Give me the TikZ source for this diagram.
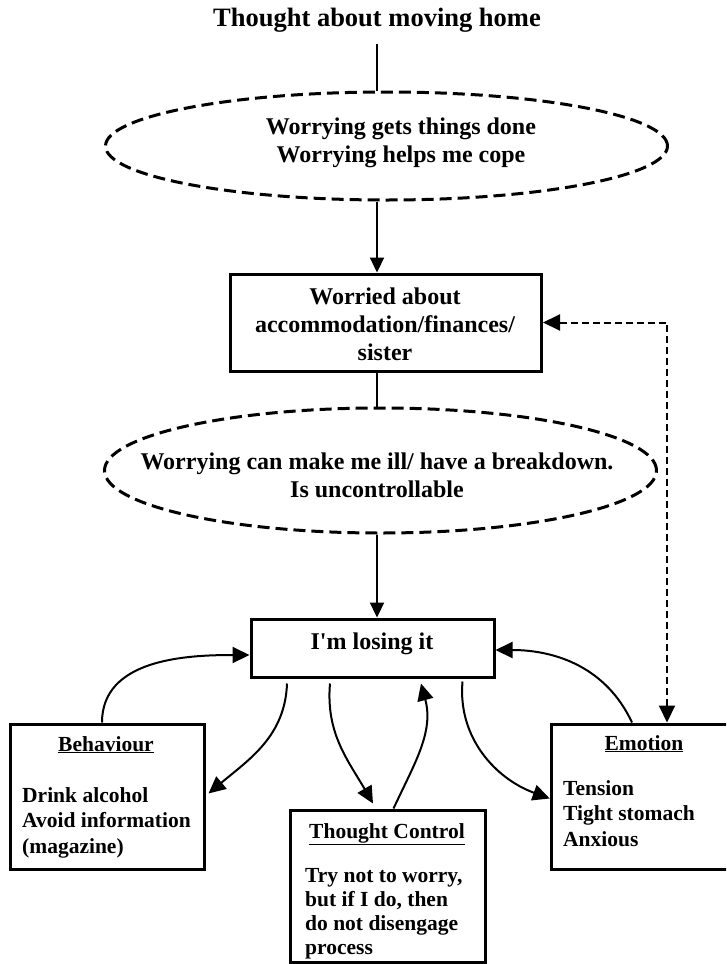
\documentclass[tikz,border=0pt]{standalone}
\usepackage{fontspec}
\setmainfont{Liberation Serif}
\usetikzlibrary{arrows.meta,shapes.geometric,calc}
\begin{document}
\begin{tikzpicture}[x=1pt,y=1pt,
  box/.style={draw,line width=3pt,rectangle,inner sep=0pt},
  dashell/.style={draw,ellipse,line width=3pt,dash pattern=on 12pt off 6pt,inner sep=0pt},
  txt/.style={font=\fontsize{24}{28}\selectfont\bfseries,inner sep=0pt,align=center},
  small/.style={font=\fontsize{21.5}{25.5}\selectfont\bfseries,inner sep=0pt},
  sline/.style={line width=2.2pt},
  sarrow/.style={line width=2.2pt,-{Triangle[length=15pt,width=14pt]}},
  carrow/.style={line width=2pt,-{Triangle[length=17pt,width=16pt]}},
  darrow/.style={line width=2pt,dash pattern=on 7pt off 4pt,{Triangle[length=17pt,width=16pt]}-{Triangle[length=17pt,width=16pt]}}
]
\useasboundingbox (0,0) rectangle (726,-964);
\clip (0,0) rectangle (726,-964);

% title
\node[font=\fontsize{26.5}{30}\selectfont\bfseries, anchor=base, inner xsep=0pt, inner ysep=12pt] (title) at (377,-26) {Thought about moving home};

% ellipse 1
\node[dashell, minimum width=562pt, minimum height=108pt] (e1) at (386.5,-146) {};
\node[txt, anchor=base] (t1) at (401,-162) {Worrying gets things done\\Worrying helps me cope};

% box 1
\node[box, minimum width=311pt, minimum height=97pt] (b1) at (386,-322.5) {};
\node[txt, anchor=base] (t2) at (385,-360.5) {Worried about\\accommodation/finances/\\sister};

% ellipse 2
\node[dashell, minimum width=552pt, minimum height=125pt] (e2) at (380.5,-470.5) {};
\node[txt, anchor=base] (t3) at (377,-497) {Worrying can make me ill/ have a breakdown.\\Is uncontrollable};

% box 2
\node[box, minimum width=243pt, minimum height=58pt] (box2) at (372.5,-648) {};
\node[txt, anchor=base] (t4) at (372,-649) {I\textquotesingle m losing it};

% behaviour
\node[box, minimum width=194pt, minimum height=145pt] (beh) at (107,-796.5) {};
\node[small, anchor=base] (behh) at (106,-751) {\underline{Behaviour}};
\node[small, anchor=base west, align=left] (behb) at (22,-853) {Drink alcohol\\Avoid information\\(magazine)};

% thought control
\node[box, minimum width=195pt, minimum height=152pt] (tc) at (387.5,-886) {};
\node[small, anchor=base] (tch) at (387,-838) {\underline{Thought Control}};
\node[small, anchor=base west, align=left, font=\fontsize{21.5}{24}\selectfont\bfseries] (tcb) at (305,-954) {Try not to worry,\\but if I do, then\\do not disengage\\process};

% emotion
\node[box, minimum width=185.5pt, minimum height=145pt] (emo) at (644,-796.5) {};
\node[small, anchor=base] (emoh) at (644,-750) {\underline{Emotion}};
\node[small, anchor=base west, align=left] (emob) at (563,-846) {Tension\\Tight stomach\\Anxious};

\coordinate (fbcorner) at (667,-322.5);

% straight connectors
\draw[sline] (title.south) -- (e1.north -| title.south);
\draw[sarrow] (e1.south -| title.south) -- (b1.north -| title.south);
\draw[sline] (b1.south -| title.south) -- (e2.north -| title.south);
\draw[sarrow] (e2.south -| title.south) -- (box2.north -| title.south);

% dashed feedback
\draw[darrow] (b1.east) -| (emo.north -| fbcorner);

% curved arrows
\draw[carrow] ([xshift=-5pt]beh.north) to[out=90,in=180] ([yshift=-7pt]box2.west);
\draw[carrow] ([xshift=-85.5pt,yshift=-5pt]box2.south) to[out=-92,in=40] ([xshift=3pt,yshift=3pt]beh.east);
\draw[carrow] ([xshift=-42.5pt,yshift=-5pt]box2.south) to[out=-95,in=120] ([xshift=-14.5pt,yshift=5pt]tc.north);
\draw[carrow] ([xshift=6pt]tc.north) to[out=65,in=-75] ([xshift=48.5pt,yshift=-5pt]box2.south);
\draw[carrow] ([xshift=90pt,yshift=-3pt]box2.south) to[out=-95,in=160] ([yshift=-2pt]emo.west);
\draw[carrow] ([xshift=-12pt]emo.north) to[out=115,in=0] ([yshift=-2pt]box2.east);
\end{tikzpicture}
\end{document}
